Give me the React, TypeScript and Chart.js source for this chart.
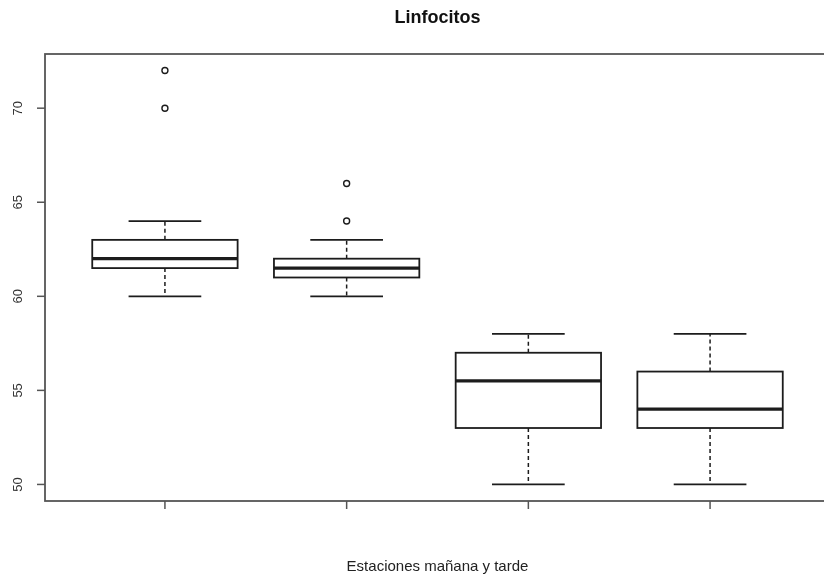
import React, { useEffect, useRef } from "react";
import { Chart, registerables } from "chart.js";

Chart.register(...registerables);

const chartTitle = "Linfocitos";
const xAxisLabel = "Estaciones mañana y tarde";
const groupPositions = [1, 2, 3, 4];
const whiskerLow = [60, 60, 50, 50];
const quartile1 = [61.5, 61, 53, 53];
const medians = [62, 61.5, 55.5, 54];
const quartile3 = [63, 62, 57, 56];
const whiskerHigh = [64, 63, 58, 58];
const outlierGroups = [1, 1, 2, 2];
const outlierValues = [70, 72, 64, 66];
const yTickValues = [50, 55, 60, 65, 70];

const boxPlotPlugin = {
  id: "boxPlotPlugin",
  beforeDatasetsDraw(chart: any) {
    const { ctx, chartArea, scales } = chart;
    const xs = scales.x;
    const ys = scales.y;
    ctx.save();

    // plot frame
    ctx.strokeStyle = "#555";
    ctx.lineWidth = 1.8;
    ctx.setLineDash([]);
    ctx.strokeRect(chartArea.left, chartArea.top, chartArea.right - chartArea.left, chartArea.bottom - chartArea.top);

    // y ticks and labels
    ctx.lineWidth = 1.5;
    ctx.strokeStyle = "#555";
    ctx.fillStyle = "#333";
    ctx.font = '13px "Liberation Sans", Arial, sans-serif';
    yTickValues.forEach((v) => {
      const y = ys.getPixelForValue(v);
      ctx.beginPath();
      ctx.moveTo(chartArea.left - 8, y);
      ctx.lineTo(chartArea.left, y);
      ctx.stroke();
      ctx.save();
      ctx.translate(21.5, y);
      ctx.rotate(-Math.PI / 2);
      ctx.textAlign = "center";
      ctx.textBaseline = "alphabetic";
      ctx.fillText(String(v), 0, 0);
      ctx.restore();
    });

    // x ticks
    groupPositions.forEach((g) => {
      const x = xs.getPixelForValue(g);
      ctx.beginPath();
      ctx.moveTo(x, chartArea.bottom);
      ctx.lineTo(x, chartArea.bottom + 8);
      ctx.stroke();
    });

    // title and axis label
    const cx = (chartArea.left + chartArea.right) / 2;
    ctx.fillStyle = "#111";
    ctx.textAlign = "center";
    ctx.textBaseline = "alphabetic";
    ctx.font = 'bold 18px "Liberation Sans", Arial, sans-serif';
    ctx.fillText(chartTitle, cx, 22.5);
    ctx.fillStyle = "#222";
    ctx.font = '15px "Liberation Sans", Arial, sans-serif';
    ctx.fillText(xAxisLabel, cx, 571);

    // boxes
    ctx.strokeStyle = "#1c1c1c";
    groupPositions.forEach((g, i) => {
      const x = xs.getPixelForValue(g);
      const half = xs.getPixelForValue(g + 0.4) - x;
      const staple = half / 2;
      const yLo = ys.getPixelForValue(whiskerLow[i]);
      const yQ1 = ys.getPixelForValue(quartile1[i]);
      const yMed = ys.getPixelForValue(medians[i]);
      const yQ3 = ys.getPixelForValue(quartile3[i]);
      const yHi = ys.getPixelForValue(whiskerHigh[i]);

      // dashed whiskers
      ctx.lineWidth = 1.5;
      ctx.setLineDash([4, 3]);
      ctx.beginPath();
      ctx.moveTo(x, yQ3);
      ctx.lineTo(x, yHi);
      ctx.moveTo(x, yQ1);
      ctx.lineTo(x, yLo);
      ctx.stroke();
      ctx.setLineDash([]);

      // staples
      ctx.lineWidth = 1.8;
      ctx.beginPath();
      ctx.moveTo(x - staple, yHi);
      ctx.lineTo(x + staple, yHi);
      ctx.moveTo(x - staple, yLo);
      ctx.lineTo(x + staple, yLo);
      ctx.stroke();

      // box
      ctx.lineWidth = 1.8;
      ctx.strokeRect(x - half, yQ3, half * 2, yQ1 - yQ3);

      // median
      ctx.lineWidth = 3.2;
      ctx.beginPath();
      ctx.moveTo(x - half, yMed);
      ctx.lineTo(x + half, yMed);
      ctx.stroke();
    });

    ctx.restore();
  },
};

export default function App() {
  const canvasRef = useRef<HTMLCanvasElement | null>(null);

  useEffect(() => {
    if (!canvasRef.current) return;
    const chart = new Chart(canvasRef.current, {
      type: "scatter",
      data: {
        datasets: [
          {
            label: "outliers",
            data: outlierGroups.map((g, i) => ({ x: g, y: outlierValues[i] })),
            pointRadius: 3,
            pointBorderWidth: 1.4,
            pointBorderColor: "#1c1c1c",
            pointBackgroundColor: "#ffffff",
            pointStyle: "circle",
          },
        ],
      },
      options: {
        responsive: false,
        animation: false,
        devicePixelRatio: 1,
        layout: { padding: { left: 45, right: 10, top: 54, bottom: 75 } },
        plugins: {
          legend: { display: false },
          tooltip: { enabled: false },
          title: { display: false },
        },
        events: [],
        scales: {
          x: { type: "linear", min: 0.34, max: 4.66, display: false, bounds: "data" },
          y: { type: "linear", min: 49.12, max: 72.88, display: false, bounds: "data" },
        },
      },
      plugins: [boxPlotPlugin],
    });
    return () => chart.destroy();
  }, []);

  return (
    <div
      style={{
        position: "fixed",
        left: 0,
        top: 0,
        width: 824,
        height: 576,
        overflow: "hidden",
        background: "#ffffff",
      }}
    >
      <canvas ref={canvasRef} width={840} height={576} style={{ display: "block" }} />
    </div>
  );
}
